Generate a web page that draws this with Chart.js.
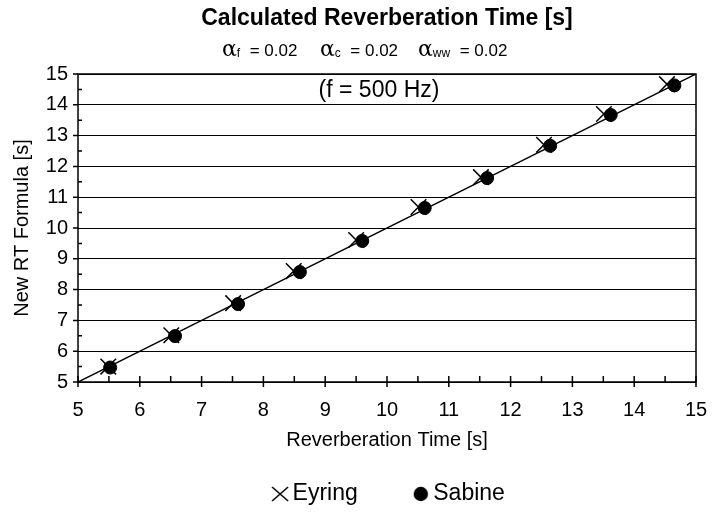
<!DOCTYPE html>
<html>
<head>
<meta charset="utf-8">
<script src="https://cdn.jsdelivr.net/npm/chart.js@4"></script>
<style>
  html, body { margin: 0; padding: 0; background: #fff; }
  #wrap { width: 712px; height: 517px; }
</style>
</head>
<body>
<div id="wrap"><canvas id="rtChart" width="712" height="517"></canvas></div>
<script>
// data
const sabineX = [5.52, 6.57, 7.59, 8.59, 9.60, 10.61, 11.62, 12.64, 13.62, 14.65];
const sabineY = [5.47, 6.49, 7.53, 8.57, 9.58, 10.65, 11.62, 12.67, 13.67, 14.63];
const eyringX = [5.49, 6.51, 7.51, 8.49, 9.50, 10.51, 11.52, 12.54, 13.51, 14.53];
const eyringY = [5.50, 6.52, 7.56, 8.60, 9.61, 10.68, 11.65, 12.70, 13.70, 14.67];
const fitLine = [5, 15];
const axisMin = 5, axisMax = 15;

const titleText = "Calculated Reverberation Time [s]";
const alphaSubs = ["f", "c", "ww"];
const alphaVals = ["0.02", "0.02", "0.02"];
const freqNote = "(f = 500 Hz)";

const FONT = "'Liberation Sans', Arial, Helvetica, sans-serif";

const toPts = (xs, ys) => xs.map((x, i) => ({ x: x, y: ys[i] }));

// small canvases used as legend symbols
function legendCross() {
  const cv = document.createElement("canvas");
  cv.width = 18; cv.height = 16;
  const g = cv.getContext("2d");
  g.strokeStyle = "#000";
  g.lineWidth = 1.6;
  g.beginPath();
  g.moveTo(1, 1); g.lineTo(17, 15);
  g.moveTo(17, 1); g.lineTo(1, 15);
  g.stroke();
  return cv;
}
function legendDot() {
  const cv = document.createElement("canvas");
  cv.width = 16; cv.height = 16;
  const g = cv.getContext("2d");
  g.fillStyle = "#000";
  g.beginPath();
  g.arc(8, 8, 7.2, 0, Math.PI * 2);
  g.fill();
  return cv;
}
const legendIcons = { Eyring: legendCross(), Sabine: legendDot() };

// nudge the legend a bit right of the plot centre, like the original
const legendNudge = {
  id: "legendNudge",
  afterLayout(chart) {
    if (!chart.legend) return;
    chart.legend.left += 5;
    chart.legend.right += 5;
  }
};

// title, alpha line, note, frame and ticks
const decor = {
  id: "decor",
  afterDraw(chart) {
    const c = chart.ctx;
    const a = chart.chartArea;
    const xs = chart.scales.x, ys = chart.scales.y;
    c.save();
    c.fillStyle = "#000";
    c.textBaseline = "middle";
    c.textAlign = "center";
    c.font = "bold 23px " + FONT;
    c.fillText(titleText, (a.left + a.right) / 2, 19);

    // alpha line
    const starts = [222, 320, 418];
    c.textAlign = "left";
    c.textBaseline = "alphabetic";
    alphaSubs.forEach((s, i) => {
      let x = starts[i];
      c.font = "22px 'DejaVu Serif', 'Liberation Serif', serif";
      c.fillText("\u03b1", x, 56);
      x += c.measureText("\u03b1").width;
      c.font = "12px " + FONT;
      c.fillText(s, x, 57);
      x += c.measureText(s).width;
      c.font = "17px " + FONT;
      c.fillText("  = " + alphaVals[i], x, 56);
    });

    c.textAlign = "center";
    c.textBaseline = "middle";
    c.font = "23px " + FONT;
    c.fillText(freqNote, 379, 91);

    // frame
    c.strokeStyle = "#000";
    c.lineWidth = 1.5;
    c.strokeRect(a.left, a.top, a.right - a.left, a.bottom - a.top);

    // major ticks cross the axis, minor ticks sit inside
    c.beginPath();
    for (let v = axisMin; v <= axisMax + 1e-9; v += 0.5) {
      const px = xs.getPixelForValue(v);
      const py = ys.getPixelForValue(v);
      const major = Math.abs(v - Math.round(v)) < 1e-9;
      if (major) {
        c.moveTo(px, a.bottom - 6); c.lineTo(px, a.bottom + 5);
        c.moveTo(a.left - 5, py); c.lineTo(a.left, py);
      } else {
        c.moveTo(px, a.bottom - 6); c.lineTo(px, a.bottom);
        c.moveTo(a.left, py); c.lineTo(a.left + 4, py);
      }
    }
    c.stroke();
    c.restore();
  }
};

new Chart(document.getElementById("rtChart"), {
  type: "scatter",
  data: {
    datasets: [
      {
        label: "line",
        type: "line",
        data: toPts(fitLine, fitLine),
        borderColor: "#000",
        borderWidth: 1.5,
        pointRadius: 0,
        fill: false,
        order: 3
      },
      {
        label: "Eyring",
        data: toPts(eyringX, eyringY),
        pointStyle: "crossRot",
        pointRadius: 11,
        borderColor: "#000",
        backgroundColor: "#000",
        pointBorderWidth: 1.5,
        order: 2
      },
      {
        label: "Sabine",
        data: toPts(sabineX, sabineY),
        pointStyle: "circle",
        pointRadius: 6.5,
        borderColor: "#000",
        backgroundColor: "#000",
        order: 1
      }
    ]
  },
  options: {
    responsive: false,
    animation: false,
    layout: { padding: { top: 74, right: 16, left: 0, bottom: 1.5 } },
    plugins: {
      title: { display: false },
      tooltip: { enabled: false },
      legend: {
        position: "bottom",
        fullSize: false,
        labels: {
          usePointStyle: true,
          pointStyleWidth: 2,
          color: "#000",
          padding: 30,
          font: { family: FONT, size: 23 },
          generateLabels(chart) {
            return chart.data.datasets
              .filter(d => legendIcons[d.label])
              .map((d, i) => ({
                text: i === 0 ? d.label + "     " : d.label,
                datasetIndex: chart.data.datasets.indexOf(d),
                pointStyle: legendIcons[d.label],
                fillStyle: "#000",
                strokeStyle: "#000",
                lineWidth: 0,
                fontColor: "#000",
                hidden: false
              }));
          }
        }
      }
    },
    scales: {
      x: {
        type: "linear",
        min: axisMin,
        max: axisMax,
        afterFit(s) { s.height = 70.5; },
        grid: { display: true, color: "rgba(0,0,0,0)", drawOnChartArea: false, drawTicks: true, tickLength: 13 },
        border: { display: false },
        ticks: { stepSize: 1, padding: 3, color: "#000", font: { family: FONT, size: 20 } },
        title: {
          display: true,
          text: "Reverberation Time [s]",
          color: "#000",
          padding: { top: 0, bottom: 0 },
          font: { family: FONT, size: 20 }
        }
      },
      y: {
        type: "linear",
        min: axisMin,
        max: axisMax,
        afterFit(s) { s.width = 78; },
        grid: { color: "#000", lineWidth: 1, drawTicks: false },
        border: { display: false },
        ticks: { stepSize: 1, padding: 10, color: "#000", font: { family: FONT, size: 20 } },
        title: {
          display: true,
          text: "New RT Formula [s]",
          color: "#000",
          padding: { top: 10, bottom: 0 },
          font: { family: FONT, size: 20 }
        }
      }
    }
  },
  plugins: [legendNudge, decor]
});
</script>
</body>
</html>
